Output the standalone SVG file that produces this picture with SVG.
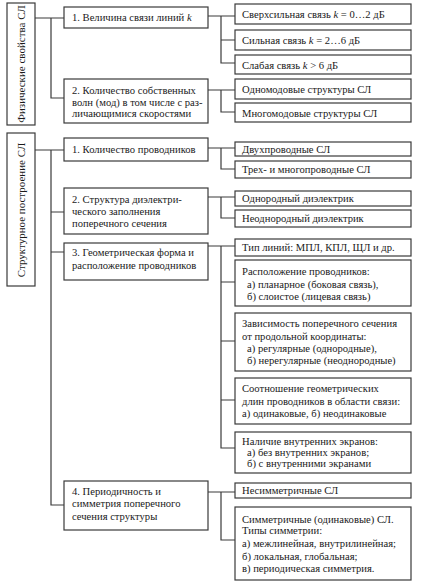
<svg xmlns="http://www.w3.org/2000/svg" width="423" height="586" viewBox="0 0 423 586">
<style>
.b{fill:#fff;stroke:#3a3a3a;stroke-width:1.2}
.t{font-family:'Liberation Serif','Times New Roman',Times,serif;font-size:10.6px;fill:#1a1a1a}
.v{font-family:'Liberation Serif','Times New Roman',Times,serif;font-size:11px;fill:#1a1a1a}
.c{fill:none;stroke:#3a3a3a;stroke-width:1.2}
</style>
<rect width="423" height="586" fill="#fff"/>
<g id="connectors" class="c">
<path d="M35 18H64M51 18V98H64"/>
<path d="M208 16H235M221 16V63H235M221 40H235"/>
<path d="M208 90H235M221 90V112H235"/>
<path d="M35 150H64M51 150V505H64M51 212H64M51 252H64"/>
<path d="M208 148H235M221 148V169H235"/>
<path d="M208 197H235M221 197V218H235"/>
<path d="M208 246H235M221 246V448H235M221 282H235M221 341H235M221 400H235"/>
<path d="M208 492H235M221 492V540H235"/>
</g>
<g id="phys"><rect class="b" x="7" y="3" width="28" height="122"/><text class="v" transform="translate(25 64) rotate(-90)" text-anchor="middle">Физические свойства СЛ</text></g>
<g id="struct"><rect class="b" x="7" y="133" width="28" height="153"/><text class="v" transform="translate(25 210) rotate(-90)" text-anchor="middle">Структурное построение СЛ</text></g>
<g id="a1"><rect class="b" x="64" y="7" width="144" height="21"/><text class="t" x="72" y="21">1. Величина связи линий <tspan font-style="italic">k</tspan></text></g>
<g id="a2"><rect class="b" x="64" y="79" width="144" height="44"/><text class="t" x="72" y="94">2. Количество собственных</text><text class="t" x="72" y="105.5">волн (мод) в том числе с раз-</text><text class="t" x="72" y="117">личающимися скоростями</text></g>
<g id="a11"><rect class="b" x="235" y="4" width="176" height="20"/><text class="t" x="242" y="18">Сверхсильная связь <tspan font-style="italic">k</tspan> = 0…2 дБ</text></g>
<g id="a12"><rect class="b" x="235" y="30" width="176" height="20"/><text class="t" x="242" y="44">Сильная связь <tspan font-style="italic">k</tspan> = 2…6 дБ</text></g>
<g id="a13"><rect class="b" x="235" y="55" width="176" height="19"/><text class="t" x="242" y="68.5">Слабая связь <tspan font-style="italic">k</tspan>  &gt; 6 дБ</text></g>
<g id="a21"><rect class="b" x="235" y="79" width="176" height="20"/><text class="t" x="242" y="93">Одномодовые структуры СЛ</text></g>
<g id="a22"><rect class="b" x="235" y="103" width="176" height="19"/><text class="t" x="242" y="116.5">Многомодовые структуры СЛ</text></g>
<g id="b1"><rect class="b" x="64" y="138" width="144" height="23"/><text class="t" x="72" y="153">1. Количество проводников</text></g>
<g id="b2"><rect class="b" x="64" y="188" width="144" height="46"/><text class="t" x="72" y="203">2. Структура диэлектри-</text><text class="t" x="72" y="215">ческого заполнения</text><text class="t" x="72" y="227">поперечного сечения</text></g>
<g id="b3"><rect class="b" x="64" y="243" width="144" height="37"/><text class="t" x="72" y="256">3. Геометрическая форма  и</text><text class="t" x="72" y="268.5">расположение проводников</text></g>
<g id="b4"><rect class="b" x="64" y="481" width="144" height="49"/><text class="t" x="72" y="494.5">4. Периодичность и</text><text class="t" x="72" y="507">симметрия поперечного</text><text class="t" x="72" y="519.5">сечения структуры</text></g>
<g id="b11"><rect class="b" x="235" y="142" width="176" height="14"/><text class="t" x="242" y="152.5">Двухпроводные СЛ</text></g>
<g id="b12"><rect class="b" x="235" y="161" width="176" height="17"/><text class="t" x="242" y="173">Трех- и многопроводные СЛ</text></g>
<g id="b21"><rect class="b" x="235" y="191" width="176" height="15"/><text class="t" x="242" y="202">Однородный диэлектрик</text></g>
<g id="b22"><rect class="b" x="235" y="210" width="176" height="17"/><text class="t" x="242" y="222">Неоднородный диэлектрик</text></g>
<g id="b31"><rect class="b" x="235" y="239" width="176" height="17"/><text class="t" x="242" y="251">Тип линий: МПЛ, КПЛ, ЩЛ и др.</text></g>
<g id="b32"><rect class="b" x="235" y="260" width="176" height="46"/><text class="t" x="242" y="275">Расположение проводников:</text><text class="t" x="247" y="287.5">а) планарное (боковая связь),</text><text class="t" x="247" y="299.5">б) слоистое (лицевая связь)</text></g>
<g id="b33"><rect class="b" x="235" y="313" width="176" height="58"/><text class="t" x="242" y="327">Зависимость поперечного сечения</text><text class="t" x="242" y="339.5">от продольной координаты:</text><text class="t" x="247" y="351.5">а) регулярные (однородные),</text><text class="t" x="247" y="363.5">б) нерегулярные (неоднородные)</text></g>
<g id="b34"><rect class="b" x="235" y="378" width="176" height="46"/><text class="t" x="242" y="392">Соотношение геометрических</text><text class="t" x="242" y="404.5">длин проводников в области связи:</text><text class="t" x="242" y="417">а) одинаковые, б) неодинаковые</text></g>
<g id="b35"><rect class="b" x="235" y="432" width="176" height="41"/><text class="t" x="242" y="445">Наличие внутренних экранов:</text><text class="t" x="247" y="456">а) без внутренних экранов;</text><text class="t" x="247" y="467">б) с внутренними экранами</text></g>
<g id="b41"><rect class="b" x="235" y="483" width="176" height="15"/><text class="t" x="242" y="494">Несимметричные СЛ</text></g>
<g id="b42"><rect class="b" x="235" y="507" width="176" height="73"/><text class="t" x="242" y="522.5">Симметричные (одинаковые) СЛ.</text><text class="t" x="242" y="534">Типы симметрии:</text><text class="t" x="242" y="546.5">а) межлинейная, внутрилинейная;</text><text class="t" x="242" y="559.5">б) локальная, глобальная;</text><text class="t" x="242" y="571.5">в) периодическая симметрия.</text></g>
</svg>
